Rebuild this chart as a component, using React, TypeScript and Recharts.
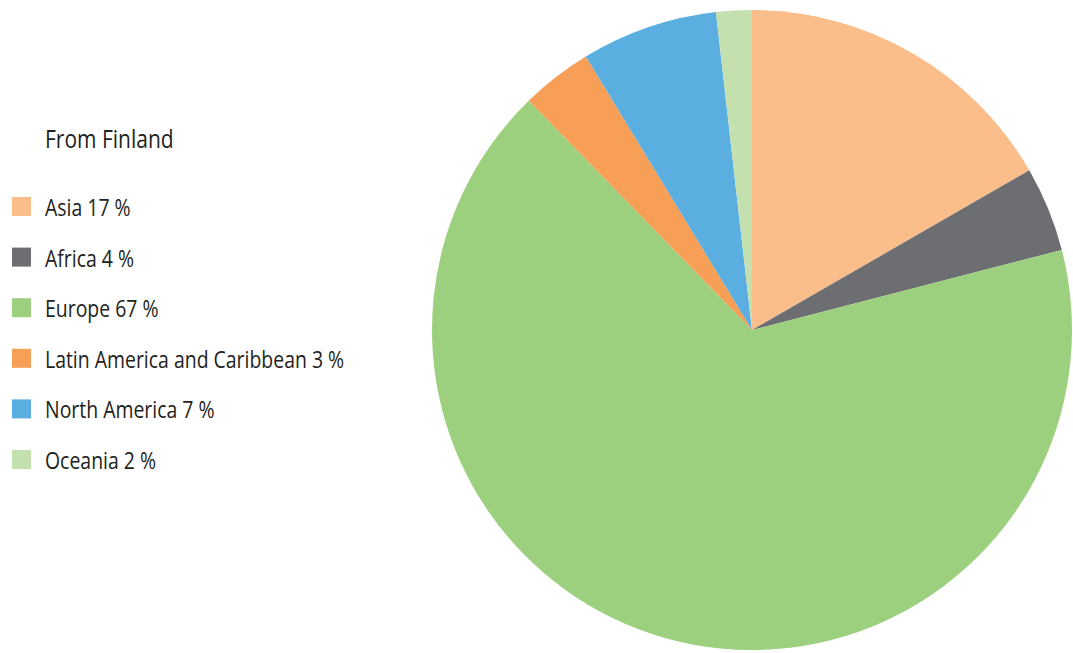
import React from "react";
import { PieChart, Pie, Cell } from "recharts";

const regions = ["Asia", "Africa", "Europe", "Latin America and Caribbean", "North America", "Oceania"];
const shares = [16.7, 4.3, 66.8, 3.6, 6.9, 1.8];
const labelPercents = [17, 4, 67, 3, 7, 2];
const colors = ["#FBBD8A", "#6D6E72", "#9DD07E", "#F79E57", "#5AAFE0", "#C4E0AF"];
const title = "From Finland";

const data = regions.map((name, i) => ({ name, value: shares[i], pct: labelPercents[i] }));

const FONT = "'Open Sans', sans-serif";

const LegendBlock = () => (
  <svg width={400} height={500} style={{ position: "absolute", left: 0, top: 0, display: "block" }}>
    <text transform="translate(45,148) scale(0.84,1)" fontFamily={FONT} fontSize={25} fill="#231f20">
      {title}
    </text>
    {data.map((d, i) => {
      const top = 197 + i * 50.6;
      return (
        <g key={d.name}>
          <rect x={12} y={top} width={19} height={19} fill={colors[i]} />
          <text
            transform={`translate(45,${top + 19}) scale(0.81,1)`}
            fontFamily={FONT}
            fontSize={24}
            fill="#231f20"
          >
            {`${d.name} ${d.pct} %`}
          </text>
        </g>
      );
    })}
  </svg>
);

export default function App() {
  return (
    <div style={{ position: "absolute", left: 0, top: 0, width: 1073, height: 653, background: "#fff" }}>
      <PieChart width={1073} height={653} margin={{ top: 0, right: 0, bottom: 0, left: 0 }}>
        <Pie
          data={data}
          dataKey="value"
          nameKey="name"
          cx={752}
          cy={330}
          outerRadius={320}
          innerRadius={0}
          startAngle={90}
          endAngle={-270}
          stroke="none"
          isAnimationActive={false}
        >
          {data.map((d, i) => (
            <Cell key={d.name} fill={colors[i]} />
          ))}
        </Pie>
      </PieChart>
      <LegendBlock />
    </div>
  );
}
